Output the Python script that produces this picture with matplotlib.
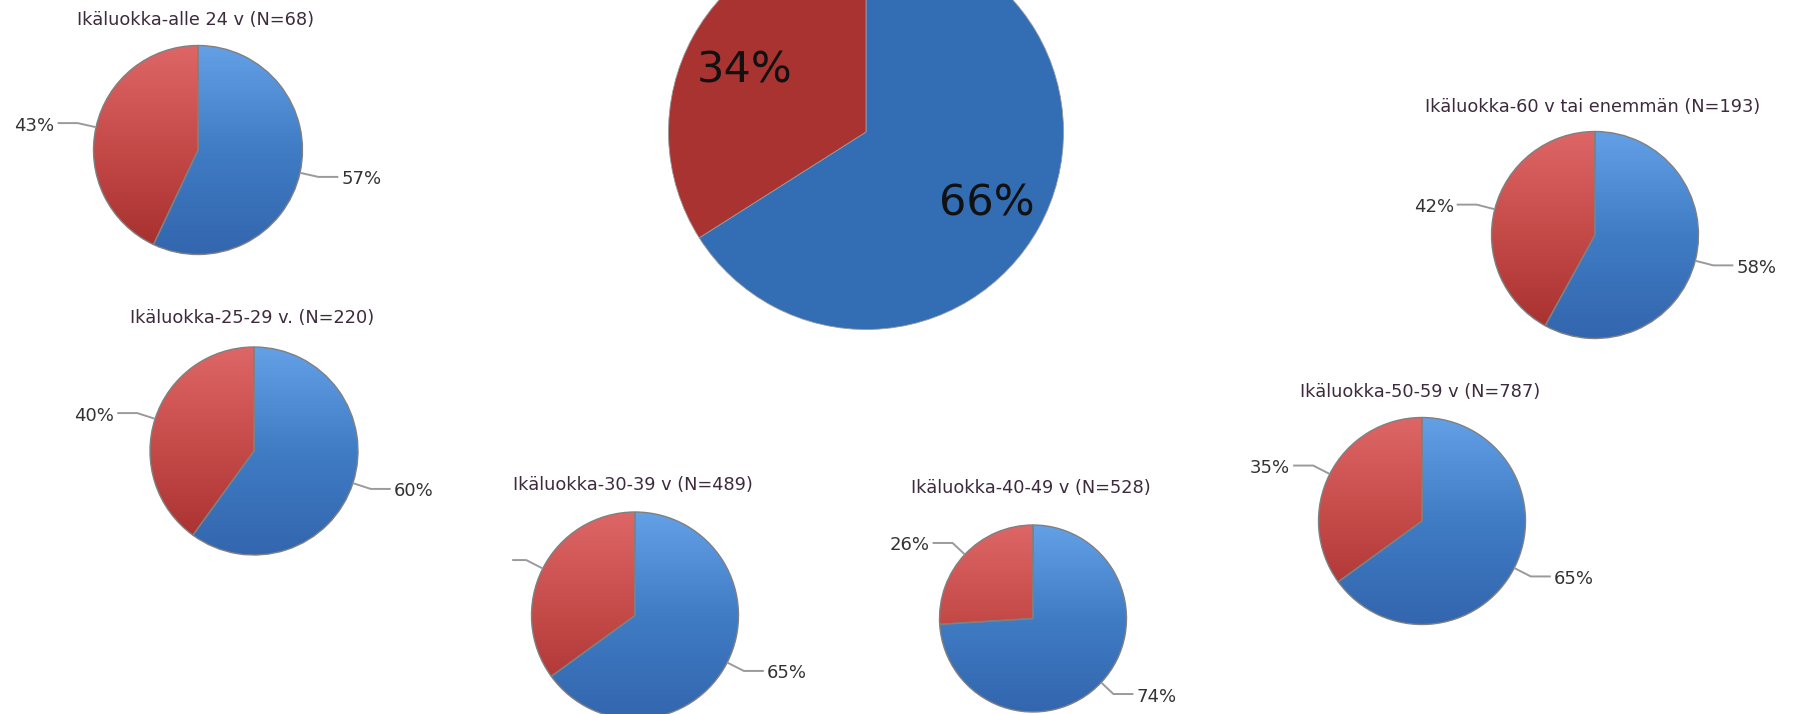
import numpy as np
import matplotlib
matplotlib.use("Agg")
import matplotlib.pyplot as plt
from matplotlib.colors import LinearSegmentedColormap

# ---------------- data ----------------
titles = [
    "Ikäluokka-alle 24 v (N=68)",
    "Ikäluokka-25-29 v. (N=220)",
    "Ikäluokka-30-39 v (N=489)",
    "Ikäluokka-40-49 v (N=528)",
    "Ikäluokka-50-59 v (N=787)",
    "Ikäluokka-60 v tai enemmän (N=193)",
]
blue_pct = [57, 60, 65, 74, 65, 58]
red_pct = [43, 40, 35, 26, 35, 42]
red_label_visible = [True, True, False, True, True, True]
total_blue = 66
total_red = 34

# ---------------- layout (pixels, y from top) ----------------
W, H = 1793, 714
layout = [  # centre x, centre y, radius, title y
    (198, 150, 104.5, 20),
    (254, 451, 104.0, 318),
    (635, 615.5, 103.5, 485),
    (1033, 618.5, 93.5, 488),
    (1422, 521, 103.5, 392),
    (1595, 235, 103.5, 107),
]
big = (866, 132, 197.5)

blue_cmap = LinearSegmentedColormap.from_list("b", ["#64a0e6", "#3f7cc4", "#3366ae"])
red_cmap = LinearSegmentedColormap.from_list("r", ["#de6666", "#c44a48", "#a52e2c"])
title_color = "#3d2b3d"
label_color = "#333333"
leader_color = "#9a9a9a"

fig = plt.figure(figsize=(W / 100, H / 100), dpi=100)
ax = fig.add_axes([0, 0, 1, 1])
ax.set_axis_off()

grad = np.linspace(0, 1, 256).reshape(-1, 1)


def draw_small(i):
    cx, cy, r, ty = layout[i]
    Y = H - cy
    wedges, _ = ax.pie([blue_pct[i], red_pct[i]], center=(cx, Y), radius=r,
                       startangle=90, counterclock=False,
                       colors=["none", "none"],
                       wedgeprops=dict(edgecolor="#808080", linewidth=1.0),
                       frame=True)
    for w, cm in zip(wedges, [blue_cmap, red_cmap]):
        im = ax.imshow(grad, cmap=cm, extent=(cx - r, cx + r, Y - r, Y + r),
                       origin="upper", aspect="auto", zorder=0.5)
        im.set_clip_path(w)
        w.set_zorder(1)
    ax.text(cx - 2, H - ty, titles[i], ha="center", va="center",
            fontsize=12.8, color=title_color)
    vals = [blue_pct[i], red_pct[i]]
    vis = [True, red_label_visible[i]]
    for w, v, show in zip(wedges, vals, vis):
        mid = np.deg2rad((w.theta1 + w.theta2) / 2)
        d = np.array([np.cos(mid), np.sin(mid)])
        p0 = np.array([cx, Y]) + r * d
        p1 = np.array([cx, Y]) + 1.18 * r * d
        s = 1 if d[0] >= 0 else -1
        hlen = 20 if show else 14
        p2 = p1 + np.array([s * hlen, 0])
        ax.plot([p0[0], p1[0], p2[0]], [p0[1], p1[1], p2[1]],
                color=leader_color, lw=1.4, zorder=2, solid_capstyle="butt")
        if show:
            ax.text(p2[0] + s * 3, p2[1] - 2.5, f"{v}%", ha="left" if s > 0 else "right",
                    va="center", fontsize=13, color=label_color)


for i in range(len(titles)):
    draw_small(i)

# big total pie
bx, by, br = big
wedges, texts, autotexts = ax.pie([total_blue, total_red], center=(bx, H - by), radius=br,
                                  startangle=90, counterclock=False,
                                  colors=["#336db3", "#a93331"],
                                  autopct="%d%%", pctdistance=0.7,
                                  wedgeprops=dict(edgecolor="#9a9a9a", linewidth=0.6),
                                  textprops=dict(fontsize=31, color="#111111"),
                                  frame=True)
for t in autotexts:
    x, y = t.get_position()
    t.set_position((x, y - 5))

ax.set_xlim(0, W)
ax.set_ylim(0, H)
ax.set_aspect("auto")
ax.set_position([0, 0, 1, 1])
fig.savefig("out.png", dpi=100)
